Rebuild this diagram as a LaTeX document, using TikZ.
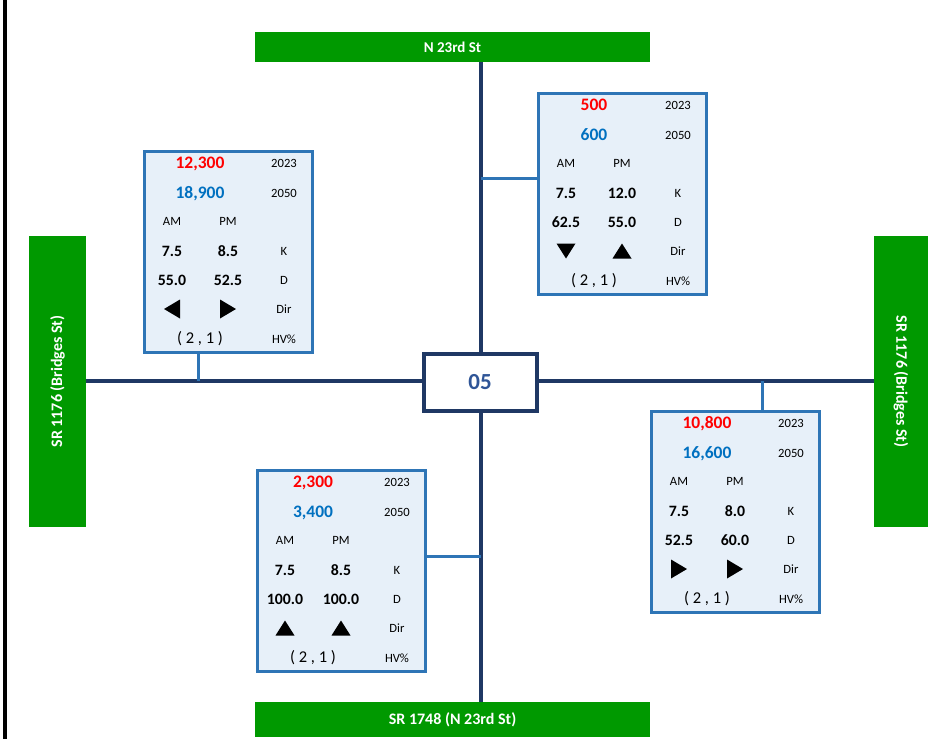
\documentclass[tikz,border=0pt]{standalone}
\usepackage{fontspec}
\setmainfont{Carlito}
\definecolor{navy}{HTML}{1F3864}
\definecolor{sgreen}{HTML}{009900}
\definecolor{boxblue}{HTML}{2E75B6}
\definecolor{boxfill}{HTML}{E7F0F9}
\definecolor{valred}{HTML}{FF0000}
\definecolor{valblue}{HTML}{0070C0}
\definecolor{ctrblue}{HTML}{2F5597}
\tikzset{
  road/.style={draw=navy, line width=4pt},
  link/.style={draw=boxblue, line width=3pt},
  sign/.style={fill=sgreen, text=white, inner sep=0pt, font=\bfseries\fontsize{15}{17}\selectfont},
  bigsign/.style={sign, font=\bfseries\fontsize{16}{18}\selectfont},
  databox/.style={draw=boxblue, line width=3pt, fill=boxfill, minimum width=168pt, minimum height=201pt, inner sep=0pt, anchor=north west},
  redv/.style={text=valred, font=\bfseries\fontsize{17.5}{19}\selectfont, inner sep=0pt, text height=11.2pt, text depth=0pt},
  bluev/.style={text=valblue, font=\bfseries\fontsize{17.5}{19}\selectfont, inner sep=0pt, text height=11.2pt, text depth=0pt},
  small/.style={font=\fontsize{12.6}{14}\selectfont, inner sep=0pt, text height=8.1pt, text depth=0pt},
  val/.style={font=\bfseries\fontsize{15.8}{17}\selectfont, inner sep=0pt, text height=10.1pt, text depth=0pt},
  hvtext/.style={font=\fontsize{16.5}{18}\selectfont, inner sep=0pt},
  ctrbox/.style={draw=navy, line width=4pt, fill=white, minimum width=113pt, minimum height=57pt, inner sep=0pt, text=ctrblue, font=\bfseries\fontsize{23}{25}\selectfont},
}
\newcommand\dbox[9]{%
\begin{scope}[shift={(#2,#3)}]
\node[databox] (#1) at (1.5,1.5) {};
\node[redv] (#1-a) at (59,14.5) {#4};
\node[small] (#1-b) at (143,15.5) {2023};
\node[bluev] (#1-c) at (59,44.5) {#5};
\node[small] (#1-d) at (143,45.5) {2050};
\node[small] (#1-e) at (31,73.5) {AM};
\node[small] (#1-f) at (87,73.5) {PM};
\node[val] (#1-g) at (31,103) {#6};
\node[val] (#1-h) at (87,103) {#7};
\node[small] (#1-i) at (143,103) {K};
\node[val] (#1-j) at (31,132) {#8};
\node[val] (#1-k) at (87,132) {#9};
\node[small] (#1-l) at (143,132) {D};
\node[small] (#1-m) at (143,161) {Dir};
\node[hvtext] (#1-n) at (59,191) {( 2 , 1 )};
\node[small] (#1-o) at (143,191) {HV\%};
\end{scope}}
% triangles centred at (x,y)
\newcommand\triR[2]{\fill[shift={(#1,#2)}] (-8,-9.5) -- (8,0) -- (-8,9.5) -- cycle;}
\newcommand\triL[2]{\fill[shift={(#1,#2)}] (8,-9.5) -- (-8,0) -- (8,9.5) -- cycle;}
\newcommand\triU[2]{\fill[shift={(#1,#2)}] (-9.5,7.5) -- (0,-7.5) -- (9.5,7.5) -- cycle;}
\newcommand\triD[2]{\fill[shift={(#1,#2)}] (-9.5,-7.5) -- (0,7.5) -- (9.5,-7.5) -- cycle;}
\begin{document}
\begin{tikzpicture}[x=1pt,y=-1pt]
\useasboundingbox (0,0) rectangle (928,739);
% left black rule
\coordinate (lt) at (5,0);
\coordinate (lb) at (5,739);
\draw[line width=4.5pt] (lt) -- (lb);
% street signs
\node[sign, minimum width=395pt, minimum height=30pt] (nsign) at (452.5,47) {N 23rd St};
\node[bigsign, minimum width=395pt, minimum height=35pt] (ssign) at (452.5,719.5) {SR 1748 (N 23rd St)};
\node[bigsign, minimum width=291pt, minimum height=57pt, rotate=90] (wsign) at (57.5,381.5) {SR 1176 (Bridges St)};
\node[bigsign, minimum width=291pt, minimum height=54pt, rotate=-90] (esign) at (901,381.5) {SR 1176 (Bridges St)};
% centre
\node[ctrbox] (ctr) at (480,382.5) {05};
\coordinate (vx) at (481,381);
\draw[road] (nsign.south -| vx) -- (ctr.north -| vx);
\draw[road] (ctr.south -| vx) -- (ssign.north -| vx);
\draw[road] (wsign.south |- vx) -- (ctr.west |- vx);
\draw[road] (ctr.east |- vx) -- (esign.south |- vx);
% connectors
\coordinate (nwroad) at (198,381);
\coordinate (neroad) at (481,178);
\coordinate (seroad) at (762,381);
\coordinate (swroad) at (481,556);
% data boxes
\dbox{nw}{141}{148}{12,300}{18,900}{7.5}{8.5}{55.0}{52.5}
\dbox{ne}{535}{90}{500}{600}{7.5}{12.0}{62.5}{55.0}
\dbox{se}{648}{408}{10,800}{16,600}{7.5}{8.0}{52.5}{60.0}
\dbox{sw}{254}{467}{2,300}{3,400}{7.5}{8.5}{100.0}{100.0}
\draw[link] (nwroad) -- (nwroad |- nw.south);
\draw[link] (neroad) -- (neroad -| ne.west);
\draw[link] (seroad) -- (seroad |- se.north);
\draw[link] (swroad) -- (swroad -| sw.east);
% direction arrows
\triL{172}{309}\triR{228}{309}
\triD{566}{251}\triU{622}{251}
\triR{679}{569}\triR{735}{569}
\triU{285}{628}\triU{341}{628}
\end{tikzpicture}
\end{document}
